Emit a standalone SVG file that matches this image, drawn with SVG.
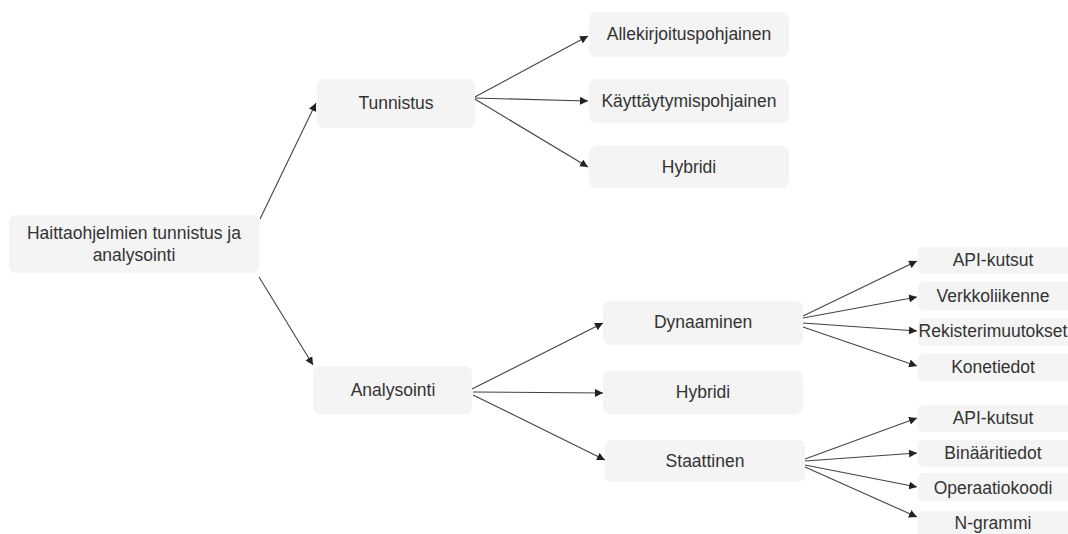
<svg xmlns="http://www.w3.org/2000/svg" width="1068" height="534" viewBox="0 0 1068 534">
<style>
.box{fill:#f4f4f4;}
.t{font-family:"Liberation Sans",Arial,sans-serif;font-size:17.5px;fill:#333333;text-anchor:middle;dominant-baseline:central;}
.e{stroke:#444444;stroke-width:1.1;fill:none;marker-end:url(#ah);}
</style>
<defs>
<marker id="ah" viewBox="0 0 10 10" refX="10" refY="5" markerWidth="8" markerHeight="8" markerUnits="userSpaceOnUse" orient="auto">
<path d="M0,0 L10,5 L0,10 z" fill="#222222"/>
</marker>
</defs>
<rect width="1068" height="534" fill="#ffffff"/>
<g id="connectors">
<line class="e" x1="260" y1="219" x2="316" y2="103"/>
<line class="e" x1="259" y1="277" x2="313" y2="365"/>
<line class="e" x1="473" y1="98" x2="588" y2="36"/>
<line class="e" x1="473" y1="98" x2="588" y2="101"/>
<line class="e" x1="473" y1="98" x2="588" y2="167"/>
<line class="e" x1="472" y1="389" x2="603" y2="323"/>
<line class="e" x1="473" y1="392" x2="603" y2="393"/>
<line class="e" x1="473" y1="395" x2="605" y2="460"/>
<line class="e" x1="803" y1="316" x2="917" y2="261"/>
<line class="e" x1="803" y1="318" x2="917" y2="297"/>
<line class="e" x1="803" y1="323" x2="917" y2="331"/>
<line class="e" x1="803" y1="327" x2="917" y2="366"/>
<line class="e" x1="805" y1="459" x2="917" y2="418"/>
<line class="e" x1="805" y1="461" x2="917" y2="453"/>
<line class="e" x1="805" y1="465" x2="917" y2="487"/>
<line class="e" x1="805" y1="467" x2="917" y2="517"/>
</g>
<g id="root"><rect class="box" x="9" y="215" width="250" height="58" rx="7"/><text class="t" x="134" y="233">Haittaohjelmien tunnistus ja</text><text class="t" x="134" y="255">analysointi</text></g>
<g id="tunnistus"><rect class="box" x="317" y="79" width="158" height="49" rx="7"/><text class="t" x="396" y="103">Tunnistus</text></g>
<g id="allekirjoitus"><rect class="box" x="589" y="12" width="200" height="45" rx="7"/><text class="t" x="689" y="34">Allekirjoituspohjainen</text></g>
<g id="kayttaytymis"><rect class="box" x="589" y="79" width="200" height="44" rx="7"/><text class="t" x="689" y="101">Käyttäytymispohjainen</text></g>
<g id="hybridi1"><rect class="box" x="589" y="146" width="200" height="42" rx="7"/><text class="t" x="689" y="167">Hybridi</text></g>
<g id="analysointi"><rect class="box" x="313" y="366" width="159" height="48" rx="7"/><text class="t" x="393" y="390">Analysointi</text></g>
<g id="dynaaminen"><rect class="box" x="603" y="301" width="200" height="44" rx="7"/><text class="t" x="703" y="322">Dynaaminen</text></g>
<g id="hybridi2"><rect class="box" x="603" y="371" width="200" height="43" rx="7"/><text class="t" x="703" y="392">Hybridi</text></g>
<g id="staattinen"><rect class="box" x="605" y="440" width="200" height="42" rx="7"/><text class="t" x="705" y="461">Staattinen</text></g>
<g id="api1"><rect class="box" x="918" y="247" width="156" height="27" rx="5"/><text class="t" x="993" y="260">API-kutsut</text></g>
<g id="verkko"><rect class="box" x="918" y="282" width="156" height="28" rx="5"/><text class="t" x="993" y="296">Verkkoliikenne</text></g>
<g id="rekisteri"><rect class="box" x="918" y="318" width="156" height="28" rx="5"/><text class="t" x="993" y="331">Rekisterimuutokset</text></g>
<g id="konetiedot"><rect class="box" x="918" y="354" width="156" height="27" rx="5"/><text class="t" x="993" y="367">Konetiedot</text></g>
<g id="api2"><rect class="box" x="918" y="405" width="156" height="27" rx="5"/><text class="t" x="993" y="418">API-kutsut</text></g>
<g id="binaari"><rect class="box" x="918" y="440" width="156" height="27" rx="5"/><text class="t" x="993" y="453">Binääritiedot</text></g>
<g id="operaatio"><rect class="box" x="918" y="473" width="156" height="28" rx="5"/><text class="t" x="993" y="488">Operaatiokoodi</text></g>
<g id="ngrammi"><rect class="box" x="918" y="511" width="156" height="30" rx="5"/><text class="t" x="993" y="523">N-grammi</text></g>
</svg>
